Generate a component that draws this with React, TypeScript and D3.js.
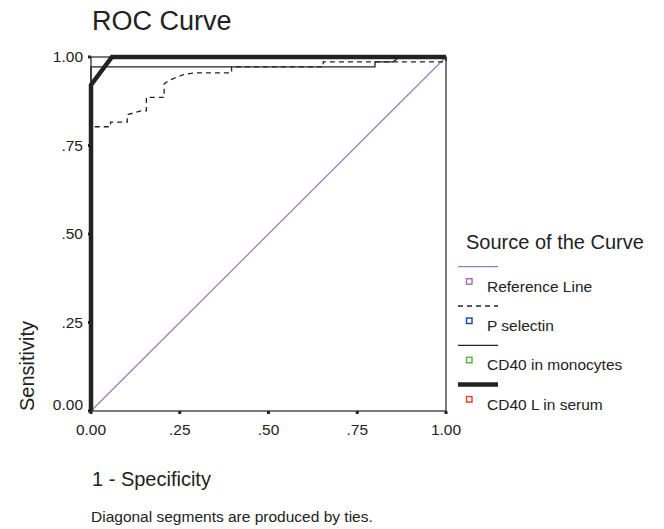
import React from 'react';
import * as d3 from 'd3';

// ROC curves (1 - specificity, sensitivity)
const tickValues = [0, 0.25, 0.5, 0.75, 1];
const tickLabels = ['0.00', '.25', '.50', '.75', '1.00'];

const refFpr = [0, 1];
const refTpr = [0, 1];

const pSelFpr = [0, 0, 0.055, 0.055, 0.102, 0.102, 0.142, 0.156, 0.156, 0.206, 0.206, 0.222, 0.26, 0.29, 0.396, 0.396, 0.654, 0.654, 1.0, 1.0];
const pSelTpr = [0, 0.803, 0.803, 0.816, 0.816, 0.837, 0.848, 0.848, 0.886, 0.886, 0.924, 0.935, 0.95, 0.955, 0.955, 0.972, 0.972, 0.986, 0.986, 1.0];

const monoFpr = [0, 0, 0.8, 0.8, 0.85, 0.87, 1.0];
const monoTpr = [0, 0.972, 0.972, 0.986, 0.986, 1.0, 1.0];

const serumFpr = [0, 0, 0.059, 1.0];
const serumTpr = [0, 0.921, 1.0, 1.0];

const legendLabels = ['Reference Line', 'P selectin', 'CD40 in monocytes', 'CD40 L in serum'];
const legendMarkColors = ['#a374c0', '#1d4fb0', '#5cb84a', '#e8452c'];

const W = 664;
const H = 529;
const plot = { left: 91, right: 446, top: 57, bottom: 411 };
const font = 'Liberation Sans, Arial, Helvetica, sans-serif';
const ink = '#222';

const App = () => {
  const x = d3.scaleLinear().domain([0, 1]).range([plot.left, plot.right]);
  const y = d3.scaleLinear().domain([0, 1]).range([plot.bottom, plot.top]);

  const line = (fpr: number[], tpr: number[]) =>
    d3.line<number>().x((d) => x(d)).y((_, i) => y(tpr[i]))(fpr) || '';

  // line styles of the series, in legend order
  const styles = [
    { stroke: '#a374c0', width: 1.2, dash: undefined },
    { stroke: ink, width: 1.3, dash: '5,4' },
    { stroke: ink, width: 1.3, dash: undefined },
    { stroke: ink, width: 4.5, dash: undefined },
  ];
  const series = [
    [refFpr, refTpr],
    [pSelFpr, pSelTpr],
    [monoFpr, monoTpr],
    [serumFpr, serumTpr],
  ];

  const legendX = 458;
  const legendY = 266.7;
  const legendStep = 39.3;

  return (
    <svg
      width={W}
      height={H}
      style={{ position: 'absolute', left: 0, top: 0, background: '#fff' }}
      fontFamily={font}
    >
      <text x={92} y={30} fontSize={27} fill={ink}>ROC Curve</text>

      {/* frame */}
      <rect
        x={plot.left}
        y={plot.top}
        width={plot.right - plot.left}
        height={plot.bottom - plot.top}
        fill="none"
        stroke={ink}
        strokeWidth={1.2}
      />

      {/* ticks and labels */}
      {tickValues.map((t, i) => (
        <g key={'x' + i}>
          <line x1={x(t)} x2={x(t)} y1={plot.bottom} y2={plot.bottom + 3} stroke={ink} strokeWidth={3} />
          <text x={x(t)} y={435} fontSize={15.5} textAnchor="middle" fill={ink}>{tickLabels[i]}</text>
        </g>
      ))}
      {tickValues.map((t, i) => (
        <g key={'y' + i}>
          <line x1={plot.left - 3} x2={plot.left} y1={y(t)} y2={y(t)} stroke={ink} strokeWidth={3} />
          <text
            x={83}
            y={y(t) + (i === 0 ? -6 : 0)}
            dy="0.35em"
            fontSize={15.5}
            textAnchor="end"
            fill={ink}
          >
            {tickLabels[i]}
          </text>
        </g>
      ))}

      {/* curves */}
      {series.map(([f, t], i) => (
        <path
          key={'s' + i}
          d={line(f, t)}
          fill="none"
          stroke={styles[i].stroke}
          strokeWidth={styles[i].width}
          strokeDasharray={styles[i].dash}
          strokeLinejoin="miter"
        />
      ))}

      {/* axis titles */}
      <text x={92} y={486} fontSize={20} fill={ink}>1 - Specificity</text>
      <text
        transform={`translate(34,${366}) rotate(-90)`}
        fontSize={20}
        textAnchor="middle"
        fill={ink}
      >
        Sensitivity
      </text>
      <text x={91} y={522} fontSize={15.5} fill={ink}>Diagonal segments are produced by ties.</text>

      {/* legend */}
      <text x={466} y={249} fontSize={20} fill={ink}>Source of the Curve</text>
      {legendLabels.map((lab, i) => {
        const ly = legendY + i * legendStep;
        return (
          <g key={'l' + i}>
            <line
              x1={legendX}
              x2={legendX + 40}
              y1={ly}
              y2={ly}
              stroke={styles[i].stroke}
              strokeWidth={styles[i].width}
              strokeDasharray={styles[i].dash}
            />
            <rect
              x={466.5}
              y={ly + 12}
              width={5.5}
              height={5.5}
              fill="#fff"
              stroke={legendMarkColors[i]}
              strokeWidth={1.5}
            />
            <text x={487} y={ly + 25} fontSize={15.5} fill={ink}>{lab}</text>
          </g>
        );
      })}
    </svg>
  );
};

export default App;
